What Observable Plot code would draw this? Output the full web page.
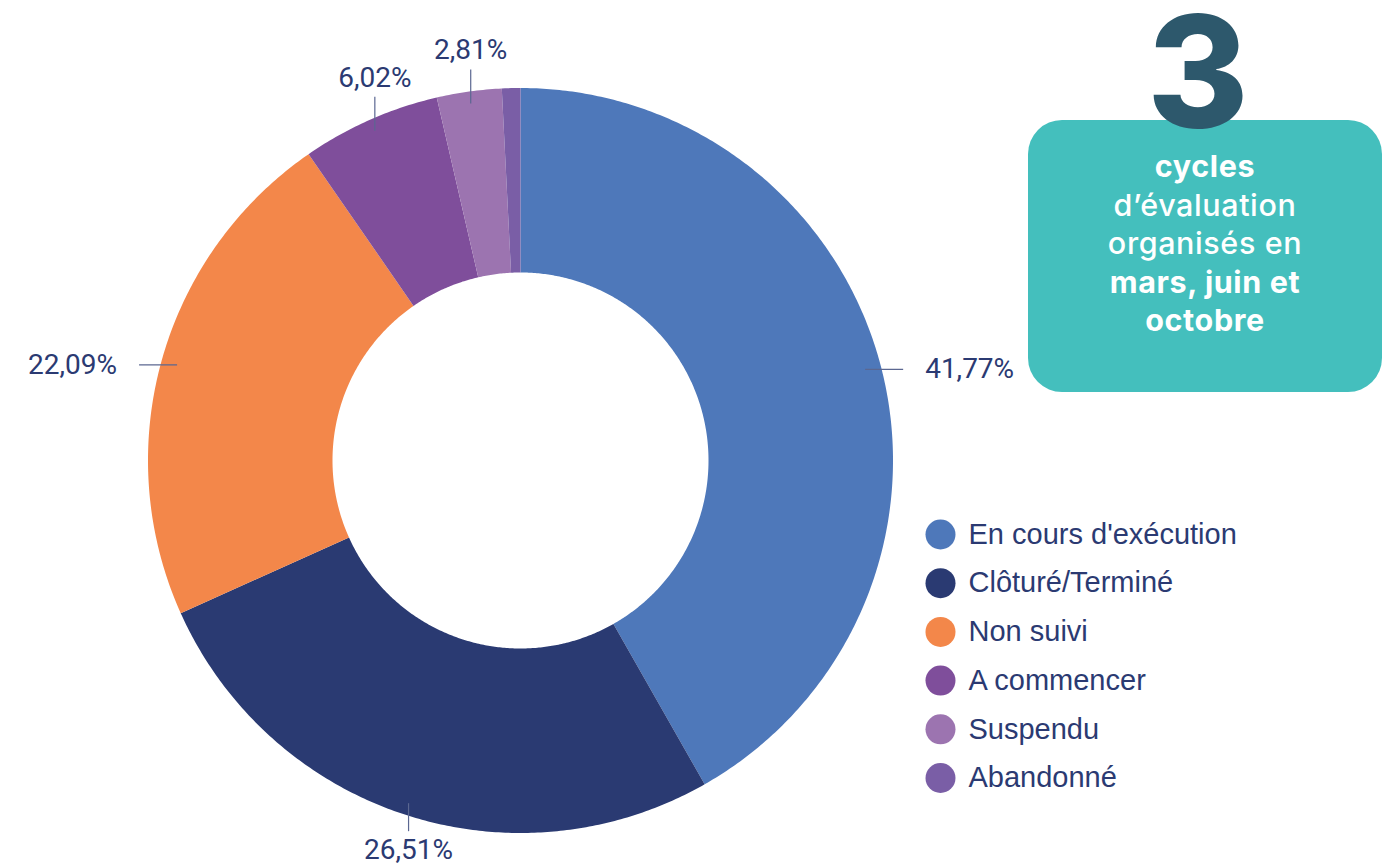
<!DOCTYPE html>
<html lang="fr">
<head>
<meta charset="utf-8">
<script src="https://cdn.jsdelivr.net/npm/d3@7"></script>
<script src="https://cdn.jsdelivr.net/npm/@observablehq/plot@0.6"></script>
<style>
  html, body { margin: 0; padding: 0; background: #ffffff; }
  #wrap { position: relative; width: 1382px; height: 867px; overflow: hidden; background: #fff; }
  #chart { position: absolute; left: 0; top: 0; }
  .box {
    position: absolute; left: 1028px; top: 120px; width: 354px; height: 272px;
    background: #44BFBD; border-radius: 34px;
  }
  .box-text {
    position: absolute; left: 1028px; top: 147px; width: 354px;
    text-align: center; color: #ffffff; font-family: Inter, "Open Sans", sans-serif;
    font-size: 30.5px; line-height: 38.5px; font-weight: 500; letter-spacing: 0.6px;
  }
  .box-text b { font-weight: 700; }
  .big {
    position: absolute; left: 1098px; width: 200px; top: 12px; height: 117px; text-align: center;
    font-family: Inter, sans-serif; font-weight: 800; font-size: 155px; line-height: 0.755;
    color: #2D586C; z-index: 2;
  }
</style>
</head>
<body>
<div id="wrap">
  <div id="chart"></div>
  <div class="box"></div>
  <div class="box-text">
    <div><b>cycles</b></div>
    <div>d’évaluation</div>
    <div>organisés en</div>
    <div><b>mars, juin et</b></div>
    <div><b>octobre</b></div>
  </div>
  <div class="big">3</div>
</div>
<script>
// ---- Data ----
const categories = ["En cours d'exécution", "Clôturé/Terminé", "Non suivi", "A commencer", "Suspendu", "Abandonné"];
const values = [41.77, 26.51, 22.09, 6.02, 2.81, 0.80];
const palette = ["#4E78BA", "#2A3A72", "#F3874A", "#7F4E9B", "#9C74B0", "#7A5EA6"];

// ---- Layout ----
const W = 1382, H = 867;
const cx = 520, cy = 460, R = 372.5, R0 = 188;
const navy = "#2B3A72";

const rows = categories.map((category, i) => ({category, value: values[i]}));
const arcs = d3.pie().sort(null).value(d => d.value)(rows);

// ring polygons derived from pie angles
const ring = [];
for (const a of arcs) {
  const span = a.endAngle - a.startAngle;
  const n = Math.max(4, Math.ceil(span * 180 / Math.PI * 2));
  for (let k = 0; k <= n; k++) {
    const t = a.startAngle + span * k / n;
    ring.push({category: a.data.category, x: R * Math.sin(t), y: -R * Math.cos(t)});
  }
  for (let k = n; k >= 0; k--) {
    const t = a.startAngle + span * k / n;
    ring.push({category: a.data.category, x: R0 * Math.sin(t), y: -R0 * Math.cos(t)});
  }
}

// value labels with leader lines at each slice's mid-angle
const fmt = v => d3.format(".2f")(v).replace(".", ",") + "%";
const callouts = arcs.filter(a => a.data.value >= 1).map(a => {
  const m = (a.startAngle + a.endAngle) / 2, s = Math.sin(m), c = Math.cos(m);
  const horiz = Math.abs(s) > Math.abs(c);
  const r0 = horiz ? R - 16 : R - 12;
  const x0 = r0 * s, y0 = -r0 * c;
  const len = horiz ? 38 : (c > 0 ? 34 : 28);
  const x1 = horiz ? x0 + Math.sign(s) * len : x0;
  const y1 = horiz ? y0 : y0 - Math.sign(c) * len;
  const tx = horiz ? x1 + Math.sign(s) * 22 : x1;
  const ty = horiz ? y1 : y1 - Math.sign(c) * 19;
  return {label: fmt(a.data.value), x0, y0, x1, y1, tx, ty,
          anchor: horiz ? (s > 0 ? "start" : "end") : "middle"};
});

// legend
const legX = 940 - cx, legTextX = 968 - cx, legY0 = 534 - cy, legStep = 48.7;

const labelText = anchor => Plot.text(callouts.filter(d => d.anchor === anchor), {
  x: "tx", y: "ty", text: "label", textAnchor: anchor,
  fontFamily: "Roboto, 'Open Sans', sans-serif", fontSize: 28, fill: navy
});

const chart = Plot.plot({
  width: W, height: H, margin: 0,
  style: {background: "transparent", overflow: "visible"},
  x: {domain: [-cx, W - cx], range: [0, W], axis: null},
  y: {domain: [-cy, H - cy], range: [0, H], axis: null},
  color: {domain: categories, range: palette},
  marks: [
    Plot.line(ring, {x: "x", y: "y", z: "category", fill: "category", stroke: "none", curve: "linear"}),
    Plot.link(callouts, {x1: "x0", y1: "y0", x2: "x1", y2: "y1", stroke: "#5B6791", strokeWidth: 1.2}),
    labelText("start"),
    labelText("end"),
    labelText("middle"),
    Plot.dot(rows, {x: () => legX, y: (d, i) => legY0 + i * legStep, r: 15, fill: "category", stroke: "none"}),
    Plot.text(rows, {x: () => legTextX, y: (d, i) => legY0 + i * legStep, text: "category",
      textAnchor: "start", fontFamily: "'Liberation Sans', Arial, sans-serif", fontSize: 29, fill: navy})
  ]
});
document.getElementById("chart").appendChild(chart);
</script>
</body>
</html>
